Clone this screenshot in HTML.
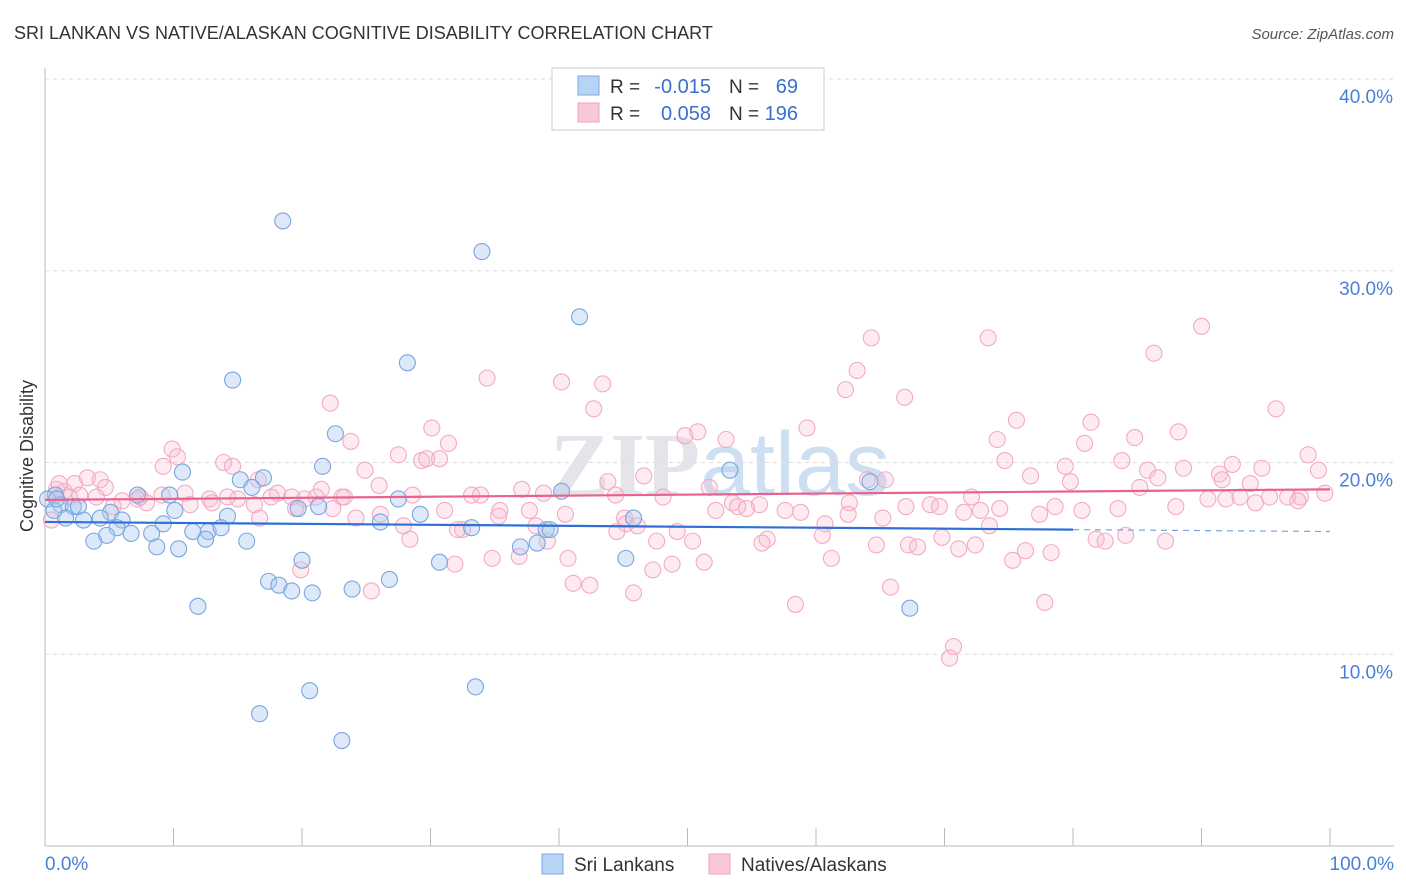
<!DOCTYPE html>
<html><head><meta charset="utf-8"><style>
body{margin:0;background:#fff;font-family:"Liberation Sans",sans-serif;}
svg{display:block}
</style></head><body>
<svg id="chart" width="1406" height="892">
<text x="14" y="39" font-size="18" fill="#333">SRI LANKAN VS NATIVE/ALASKAN COGNITIVE DISABILITY CORRELATION CHART</text>
<text x="1394" y="39" font-size="15" fill="#555" text-anchor="end" font-style="italic">Source: ZipAtlas.com</text>
<text x="33" y="456" font-size="18" fill="#333" text-anchor="middle" transform="rotate(-90 33 456)">Cognitive Disability</text>
<text x="720" y="495" font-size="90" fill="#e4e4ea" text-anchor="middle" font-weight="bold" font-family="Liberation Serif,serif">ZIP<tspan font-family="Liberation Sans" font-weight="normal" fill="#cfdff2">atlas</tspan></text>
<g id="grid"></g><g id="axes"></g><g id="pts"></g><g id="trend"></g>
<g>
<rect x="552" y="68" width="272" height="62" fill="#fff" stroke="#ccc"/>
<rect x="578" y="76" width="21" height="19" fill="#b8d4f4" stroke="#7aaae0"/>
<rect x="578" y="103" width="21" height="19" fill="#f9c8d8" stroke="#f0a0bc"/>
<text x="610" y="93" font-size="19" fill="#333">R =</text>
<text x="711" y="93" font-size="20" fill="#3a6fd0" text-anchor="end">-0.015</text>
<text x="729" y="93" font-size="19" fill="#333">N =</text>
<text x="798" y="93" font-size="20" fill="#3a6fd0" text-anchor="end">69</text>
<text x="610" y="120" font-size="19" fill="#333">R =</text>
<text x="711" y="120" font-size="20" fill="#3a6fd0" text-anchor="end">0.058</text>
<text x="729" y="120" font-size="19" fill="#333">N =</text>
<text x="798" y="120" font-size="20" fill="#3a6fd0" text-anchor="end">196</text>
</g>
<g>
<rect x="542" y="854" width="21" height="20" fill="#b8d4f4" stroke="#7aaae0"/>
<text x="574" y="871" font-size="19" fill="#333">Sri Lankans</text>
<rect x="709" y="854" width="21" height="20" fill="#f9c8d8" stroke="#f0a0bc"/>
<text x="741" y="871" font-size="19" fill="#333">Natives/Alaskans</text>
</g>
</svg>
<script>
const yTicks=[10,20,30,40];
const yTickLabels=["10.0%","20.0%","30.0%","40.0%"];
const xTickLabels=["0.0%","100.0%"];
const blueX=[18.5,34.0,41.6,28.2,14.6,22.6,21.6,10.7,17.0,15.2,16.1,0.8,7.2,9.7,0.2,1.2,2.2,2.6,5.1,10.1,19.7,21.3,27.5,40.2,1.6,3.0,4.3,6.0,9.2,5.6,14.2,11.5,12.7,13.7,26.1,33.2,39.0,45.8,3.8,4.8,6.7,8.3,12.5,15.7,8.7,10.4,37.0,38.3,20.0,45.2,30.7,17.4,18.2,19.2,20.8,23.9,26.8,11.9,67.3,20.6,33.5,16.7,23.1,0.7,0.9,64.2,53.3,39.3,29.2];
const blueY=[32.6,31.0,27.6,25.2,24.3,21.5,19.8,19.5,19.2,19.1,18.7,18.3,18.3,18.3,18.1,17.8,17.7,17.7,17.4,17.5,17.6,17.7,18.1,18.5,17.1,17.0,17.1,17.0,16.8,16.6,17.2,16.4,16.4,16.6,16.9,16.6,16.5,17.1,15.9,16.2,16.3,16.3,16.0,15.9,15.6,15.5,15.6,15.8,14.9,15.0,14.8,13.8,13.6,13.3,13.2,13.4,13.9,12.5,12.4,8.1,8.3,6.9,5.5,17.5,18.1,19.0,19.6,16.5,17.3];
const pinkX=[90.0,64.3,73.4,86.3,63.2,34.4,43.4,40.2,62.3,66.9,42.7,95.8,22.2,75.6,81.4,59.3,30.1,50.8,23.8,49.8,53.0,84.8,88.2,74.1,31.4,80.9,9.9,10.3,27.5,29.3,30.7,29.7,74.7,98.3,83.8,9.2,13.9,14.6,24.9,79.4,85.8,88.6,92.4,94.7,99.1,46.6,64.0,65.4,76.7,86.6,91.4,79.8,85.2,91.6,93.8,3.3,4.3,4.7,2.3,1.5,0.9,4.0,6.0,7.2,7.9,9.1,10.9,12.8,15.0,16.6,18.1,19.2,20.2,21.5,23.1,26.0,28.6,33.2,33.9,37.1,38.8,43.8,44.4,48.1,51.7,53.5,53.9,55.6,57.6,58.8,62.6,67.0,68.9,72.1,72.8,78.6,80.7,83.5,88.0,90.5,91.9,93.0,94.2,96.7,97.7,99.6,97.5,95.3,11.3,13.0,16.3,19.5,22.4,26.1,24.2,31.1,35.4,35.3,37.7,40.5,45.1,45.2,46.1,52.2,54.6,60.7,62.5,65.2,69.6,71.5,74.3,77.4,16.7,27.9,28.4,32.5,32.1,38.2,39.1,44.5,47.6,49.2,50.4,56.2,55.8,60.5,64.7,67.2,67.9,69.8,72.4,71.1,73.5,81.8,82.5,84.1,87.2,36.9,40.7,34.8,31.9,47.3,48.8,51.3,61.2,75.3,76.3,78.3,19.9,41.1,42.4,45.8,25.4,65.8,58.4,77.8,70.7,70.4,1.1,1.9,7.4,0.5,2.7,5.3,14.2,17.6,21.1,23.3];
const pinkY=[27.1,26.5,26.5,25.7,24.8,24.4,24.1,24.2,23.8,23.4,22.8,22.8,23.1,22.2,22.1,21.8,21.8,21.6,21.1,21.4,21.2,21.3,21.6,21.2,21.0,21.0,20.7,20.3,20.4,20.1,20.2,20.2,20.1,20.4,20.1,19.8,20.0,19.8,19.6,19.8,19.6,19.7,19.9,19.7,19.6,19.3,19.1,19.1,19.3,19.2,19.4,19.0,18.7,19.1,18.9,19.2,19.1,18.7,18.9,18.5,18.6,18.2,18.0,18.1,17.9,18.3,18.4,18.1,18.1,19.1,18.4,18.2,18.1,18.6,18.2,18.8,18.3,18.3,18.3,18.6,18.4,19.0,18.3,18.2,18.7,17.9,17.7,17.8,17.5,17.4,17.9,17.7,17.8,18.2,17.5,17.7,17.5,17.6,17.7,18.1,18.1,18.2,17.9,18.2,18.2,18.4,18.0,18.2,17.8,17.9,17.8,17.6,17.6,17.3,17.1,17.5,17.5,17.2,17.5,17.3,17.1,16.8,16.7,17.5,17.6,16.8,17.3,17.1,17.7,17.4,17.6,17.3,17.1,16.7,16.0,16.5,16.5,16.7,15.9,16.4,15.9,16.4,15.9,16.0,15.8,16.2,15.7,15.7,15.6,16.1,15.7,15.5,16.7,16.0,15.9,16.2,15.9,15.1,15.0,15.0,14.7,14.4,14.7,14.8,15.0,14.9,15.4,15.3,14.4,13.7,13.6,13.2,13.3,13.5,12.6,12.7,10.4,9.8,18.9,18.2,18.2,17.0,18.3,17.7,18.2,18.2,18.2,18.2];
const blueTrend=[16.9,16.5,16.4];
const pinkTrend=[18.05,18.6];
const X0=45,X1=1330,Y0=846,YT=79;
const xs=v=>X0+(X1-X0)*v/100;
const ys=v=>Y0-(Y0-YT)*v/40;
const NS="http://www.w3.org/2000/svg";
function mk(tag,attrs,parent){const e=document.createElementNS(NS,tag);for(const k in attrs)e.setAttribute(k,attrs[k]);document.getElementById(parent).appendChild(e);return e;}
yTicks.forEach((t,i)=>{
 const g=mk('line',{x1:X0,x2:1394,y1:ys(t),y2:ys(t),stroke:'#ddd','stroke-dasharray':'4,4'},'grid');
 
 
 const l=mk('text',{x:1393,y:ys(t)+24,'font-size':19,fill:'#4a7fd8','text-anchor':'end'},'axes');
 l.textContent=yTickLabels[i];
 
 
});
const ax=mk('line',{x1:X0,x2:1394,y1:Y0,y2:Y0,stroke:'#bbb'},'axes');


const ay=mk('line',{x1:X0,x2:X0,y1:68,y2:Y0,stroke:'#bbb'},'axes');


for(let i=0;i<=10;i++){const t=mk('line',{x1:xs(i*10),x2:xs(i*10),y1:Y0,y2:828,stroke:'#bbb'},'axes');
 
 }
[[0,'start',45],[100,'end',1394]].forEach((d,i)=>{const t=mk('text',{x:d[2],y:870,'font-size':19,fill:'#4a7fd8','text-anchor':d[1]},'axes');t.textContent=xTickLabels[i];
 
 });
pinkX.forEach((x,i)=>{const c=mk('circle',{cx:xs(x),cy:ys(pinkY[i]),r:8,fill:'rgba(248,190,210,0.3)',stroke:'#f3aac4','stroke-width':1.1},'pts');
 
 });
blueX.forEach((x,i)=>{const c=mk('circle',{cx:xs(x),cy:ys(blueY[i]),r:8,fill:'rgba(170,200,240,0.4)',stroke:'#7aa6de','stroke-width':1.1},'pts');
 
 });
const b1=mk('line',{x1:xs(0),y1:ys(blueTrend[0]),x2:xs(80),y2:ys(blueTrend[1]),stroke:'#2f6fd6','stroke-width':2.2},'trend');


const b2=mk('line',{x1:xs(80),y1:ys(blueTrend[1]),x2:xs(100),y2:ys(blueTrend[2]),stroke:'#7aa6de','stroke-width':1.2,'stroke-dasharray':'6,5'},'trend');


const p1=mk('line',{x1:xs(0),y1:ys(pinkTrend[0]),x2:xs(100),y2:ys(pinkTrend[1]),stroke:'#e8628e','stroke-width':2.2},'trend');


</script>
</body></html>
